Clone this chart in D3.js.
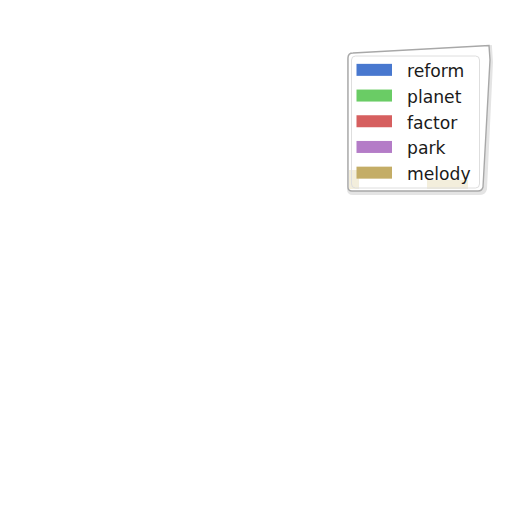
<!DOCTYPE html>
<html>
<head>
<meta charset="utf-8">
<script src="https://cdn.jsdelivr.net/npm/d3@7"></script>
<style>
  html, body { margin: 0; padding: 0; background: #fff; }
  svg { display: block; }
</style>
</head>
<body>
<div id="chart"></div>
<script>
// legend entries and their colours
const categories = ["reform", "planet", "factor", "park", "melody"]
const palette = ["#4878CF", "#6ACC65", "#D65F5F", "#B47CC7", "#C4AD66"]

const width = 512
const height = 512

const svg = d3
  .select("#chart")
  .append("svg")
  .attr("width", width)
  .attr("height", height)

const color = d3.scaleOrdinal().domain(categories).range(palette)

// rows of the legend
const y = d3
  .scaleBand()
  .domain(categories)
  .range([57, 185.5])
  .paddingInner(0)

const legend = svg.append("g").attr("class", "legend")

// soft shadow of the frame
legend
  .append("path")
  .attr("d", "M349,60 Q349,55 354,55 L490,47 L491,62 L485,189 Q484,193 479,193 L353,193 Q349,193 349,189 Z")
  .attr("fill", "none")
  .attr("stroke", "#e4e4e4")
  .attr("stroke-width", 4)

// outer (warped) frame
legend
  .append("path")
  .attr("d", "M348,58 Q348,53 353,53 L489,45.5 L490,60 L483,187 Q482,191 478,191 L352,191 Q348,191 348,187 Z")
  .attr("fill", "#fff")
  .attr("stroke", "#a8a8a8")
  .attr("stroke-width", 1.4)

// faint patches peeking from behind
legend
  .append("rect")
  .attr("x", 349)
  .attr("y", 170)
  .attr("width", 10)
  .attr("height", 19)
  .attr("fill", "#f3eedc")
legend
  .append("rect")
  .attr("x", 427)
  .attr("y", 180)
  .attr("width", 41)
  .attr("height", 9)
  .attr("fill", "#f3eedc")

// inner frame
legend
  .append("rect")
  .attr("x", 351.5)
  .attr("y", 56)
  .attr("width", 128)
  .attr("height", 132)
  .attr("rx", 4)
  .attr("fill", "none")
  .attr("stroke", "#dedede")
  .attr("stroke-width", 1)

const rows = legend
  .selectAll("g.row")
  .data(categories)
  .enter()
  .append("g")
  .attr("class", "row")
  .attr("transform", (d) => `translate(0,${y(d) + y.bandwidth() / 2})`)

rows
  .append("rect")
  .attr("x", 356.5)
  .attr("y", -6)
  .attr("width", 35.5)
  .attr("height", 12)
  .attr("fill", (d) => color(d))

rows
  .append("text")
  .attr("x", 407)
  .attr("y", 7.3)
  .attr("font-family", "DejaVu Sans")
  .attr("font-size", "17.2px")
  .attr("fill", "#1a1a1a")
  .text((d) => d)
</script>
</body>
</html>
